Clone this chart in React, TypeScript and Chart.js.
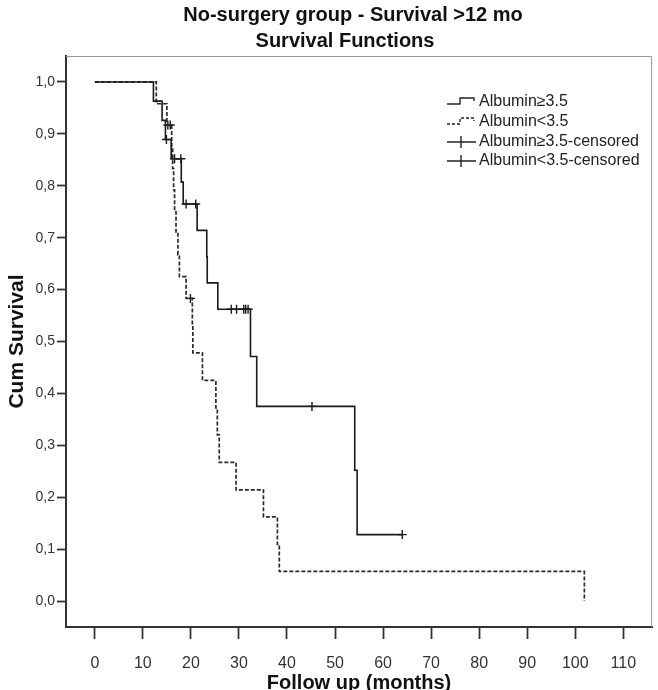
import React, { useEffect, useRef } from "react";
import { Chart, registerables } from "chart.js";
Chart.register(...registerables);

const titleLines = ["No-surgery group - Survival >12 mo", "Survival Functions"];
const xAxisTitle = "Follow up (months)";
const yAxisTitle = "Cum Survival";
const xTicks = [0, 10, 20, 30, 40, 50, 60, 70, 80, 90, 100, 110];
const yTicks = [0, 0.1, 0.2, 0.3, 0.4, 0.5, 0.6, 0.7, 0.8, 0.9, 1.0];
const legendLabels = ["Albumin≥3.5", "Albumin<3.5", "Albumin≥3.5-censored", "Albumin<3.5-censored"];

// Albumin >= 3.5 (solid)
const highTimes = [0, 12.2, 14.0, 14.7, 15.9, 18.0, 18.4, 21.3, 23.3, 23.4, 25.6, 32.4, 33.7, 54.1, 54.6, 64.0];
const highSurv = [1, 0.963, 0.926, 0.889, 0.852, 0.807, 0.765, 0.714, 0.663, 0.613, 0.562, 0.471, 0.375, 0.252, 0.128, 0.128];
const highCensTimes = [14.9, 16.6, 17.9, 19.0, 21.0, 28.4, 29.5, 31.0, 31.4, 31.9, 45.2, 64.0];
const highCensSurv = [0.889, 0.852, 0.852, 0.765, 0.765, 0.562, 0.562, 0.562, 0.562, 0.562, 0.375, 0.128];

// Albumin < 3.5 (dashed)
const lowTimes = [0, 12.8, 15.0, 16.0, 16.2, 16.4, 16.6, 16.9, 17.3, 17.6, 19.0, 20.3, 20.4, 22.4, 25.2, 25.5, 25.9, 29.4, 35.1, 38.0, 38.4, 101.9];
const lowSurv = [1, 0.958, 0.917, 0.875, 0.833, 0.792, 0.75, 0.708, 0.667, 0.625, 0.583, 0.53, 0.478, 0.425, 0.372, 0.32, 0.267, 0.214, 0.162, 0.109, 0.057, 0];
const lowCensTimes = [15.2, 15.7, 19.9];
const lowCensSurv = [0.917, 0.917, 0.583];

const FONT = "'Liberation Sans', Arial, sans-serif";

export default function App() {
  const ref = useRef<HTMLCanvasElement>(null);
  useEffect(() => {
    const canvas = ref.current!;
    const decor = {
      id: "decor",
      beforeDatasetsDraw(chart: any) {
        const { ctx, chartArea: a } = chart;
        ctx.save();
        ctx.strokeStyle = "#9a9a9a";
        ctx.lineWidth = 1;
        ctx.beginPath();
        ctx.moveTo(a.left, a.top + 0.5);
        ctx.lineTo(a.right - 0.5, a.top + 0.5);
        ctx.lineTo(a.right - 0.5, a.bottom);
        ctx.stroke();
        ctx.restore();
      },
      afterDraw(chart: any) {
        const { ctx, chartArea: a } = chart;
        ctx.save();
        ctx.fillStyle = "#111";
        ctx.textAlign = "center";
        ctx.textBaseline = "middle";
        ctx.font = `bold 20px ${FONT}`;
        ctx.fillText(titleLines[0], 353, 15);
        ctx.fillText(titleLines[1], 345, 41);

        // legend
        const lx = a.left + 381;
        const tx = lx + 32;
        const ys = [102, 122, 142, 161];
        ctx.font = `16px ${FONT}`;
        ctx.textAlign = "left";
        ctx.fillStyle = "#222";
        ys.forEach((y, i) => ctx.fillText(legendLabels[i], tx, y));
        ctx.strokeStyle = "#222";
        ctx.lineWidth = 1.4;
        [0, 1].forEach((i) => {
          const y = ys[i];
          ctx.setLineDash(i === 1 ? [3, 2] : []);
          ctx.beginPath();
          ctx.moveTo(lx, y + 2);
          ctx.lineTo(lx + 13, y + 2);
          ctx.lineTo(lx + 13, y - 4);
          ctx.lineTo(lx + 27, y - 4);
          ctx.lineTo(lx + 27, y - 1);
          ctx.stroke();
        });
        ctx.setLineDash([]);
        [2, 3].forEach((i) => {
          const y = ys[i];
          ctx.beginPath();
          ctx.moveTo(lx, y);
          ctx.lineTo(lx + 29, y);
          ctx.moveTo(lx + 14, y - 6);
          ctx.lineTo(lx + 14, y + 6);
          ctx.stroke();
        });
        ctx.restore();
      },
    };

    const toPts = (t: number[], s: number[]) => t.map((x, i) => ({ x, y: s[i] }));

    const chart = new Chart(canvas, {
      type: "line",
      data: {
        datasets: [
          {
            label: legendLabels[0],
            data: toPts(highTimes, highSurv),
            stepped: true,
            borderColor: "#1a1a1a",
            borderWidth: 1.6,
            pointRadius: 0,
            fill: false,
          },
          {
            label: legendLabels[1],
            data: toPts(lowTimes, lowSurv),
            stepped: true,
            borderColor: "#2a2a2a",
            borderWidth: 1.7,
            borderDash: [4, 2],
            pointRadius: 0,
            fill: false,
          },
          {
            label: legendLabels[2],
            data: toPts(highCensTimes, highCensSurv),
            showLine: false,
            pointStyle: "cross",
            pointRadius: 4.5,
            borderColor: "#1a1a1a",
            borderWidth: 1.4,
          },
          {
            label: legendLabels[3],
            data: toPts(lowCensTimes, lowCensSurv),
            showLine: false,
            pointStyle: "cross",
            pointRadius: 4.5,
            borderColor: "#1a1a1a",
            borderWidth: 1.4,
          },
        ],
      },
      options: {
        responsive: false,
        animation: false,
        layout: { padding: { top: 56, right: 3, left: 0, bottom: 0 } },
        plugins: {
          legend: { display: false },
          title: { display: false },
          tooltip: { enabled: false },
        },
        scales: {
          x: {
            type: "linear",
            min: -6,
            max: 116,
            afterBuildTicks: (s: any) => {
              s.ticks = xTicks.map((v) => ({ value: v }));
            },
            afterFit: (s: any) => {
              s.height = 63;
            },
            grid: {
              drawOnChartArea: false,
              drawTicks: true,
              tickLength: 12,
              tickColor: "#333",
              tickWidth: 1.8,
            },
            border: { color: "#333", width: 2 },
            ticks: {
              color: "#333",
              font: { family: FONT, size: 16 },
              padding: 15,
              maxRotation: 0,
              autoSkip: false,
              callback: (v: any) => String(v),
            },
            title: {
              display: true,
              text: xAxisTitle,
              color: "#111",
              font: { family: FONT, size: 20, weight: "bold" },
              padding: { top: 0, bottom: -5 },
            },
          },
          y: {
            type: "linear",
            min: -0.05,
            max: 1.05,
            afterBuildTicks: (s: any) => {
              s.ticks = yTicks.map((v) => ({ value: v }));
            },
            afterFit: (s: any) => {
              s.width = 66;
            },
            grid: {
              drawOnChartArea: false,
              drawTicks: true,
              tickLength: 9,
              tickColor: "#333",
              tickWidth: 1.8,
            },
            border: { color: "#333", width: 2 },
            ticks: {
              color: "#333",
              font: { family: FONT, size: 14 },
              padding: 2,
              autoSkip: false,
              callback: (v: any) => Number(v).toFixed(1).replace(".", ","),
            },
            title: {
              display: true,
              text: yAxisTitle,
              color: "#111",
              font: { family: FONT, size: 21, weight: "bold" },
              padding: { top: 5, bottom: 0 },
            },
          },
        },
      },
      plugins: [decor],
    });
    return () => chart.destroy();
  }, []);
  return (
    <div style={{ position: "absolute", left: 0, top: 0, width: 658, height: 690, background: "#fff" }}>
      <canvas ref={ref} width={658} height={690} style={{ width: 658, height: 690, display: "block" }} />
    </div>
  );
}
